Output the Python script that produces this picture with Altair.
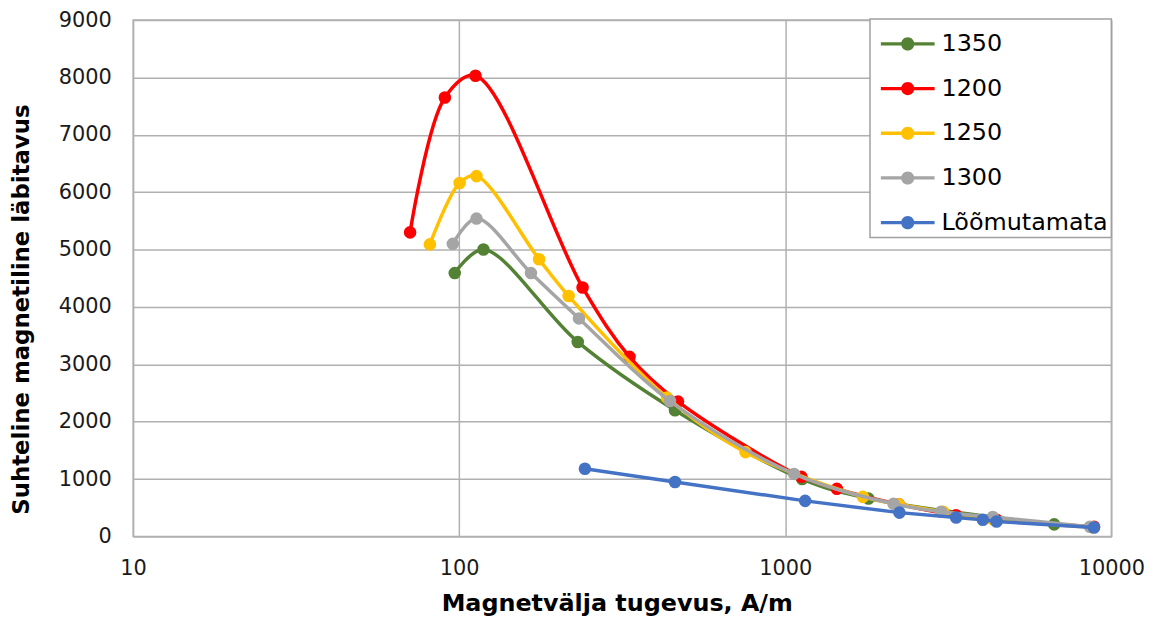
import altair as alt
import pandas as pd

# ---- data ----
series_names = ["1350", "1200", "1250", "1300", "Lõõmutamata"]
series_colors = ["#548235", "#FF0000", "#FFC000", "#A5A5A5", "#4472C4"]

x_1350 = [96.9, 118.7, 231, 459, 1127, 1800, 6680]
y_1350 = [4590, 5000, 3390, 2200, 1000, 660, 210]

x_1200 = [70.7, 90.4, 112.2, 239, 333, 469, 1120, 1440, 2230, 3340, 4450, 8850]
y_1200 = [5300, 7650, 8030, 4340, 3130, 2350, 1040, 830, 560, 370, 290, 170]

x_1250 = [81.3, 100.3, 113, 175.8, 216.6, 434, 755, 1730, 2230, 3050, 4330, 8750]
y_1250 = [5090, 6160, 6280, 4830, 4190, 2420, 1470, 690, 560, 430, 300, 160]

x_1300 = [95.6, 113, 166, 233, 443, 1064, 2148, 3006, 4330, 8600]
y_1300 = [5100, 5540, 4590, 3800, 2360, 1090, 570, 430, 340, 170]

x_lo = [243, 459, 1151, 2240, 3342, 4036, 4446, 8850]
y_lo = [1180, 950, 620, 415, 330, 290, 260, 156]

x_ticks = [10, 100, 1000, 10000]
y_ticks = [0, 1000, 2000, 3000, 4000, 5000, 6000, 7000, 8000, 9000]

xs = [x_1350, x_1200, x_1250, x_1300, x_lo]
ys = [y_1350, y_1200, y_1250, y_1300, y_lo]

rows = []
for name, xv, yv in zip(series_names, xs, ys):
    for a, b in zip(xv, yv):
        rows.append({"series": name, "H": a, "mu": b})
df = pd.DataFrame(rows)

FONT = "DejaVu Sans"
GRID = "#B0B0B0"

x_enc = alt.X(
    "H:Q",
    scale=alt.Scale(type="log", domain=[10, 10000], nice=False),
    axis=alt.Axis(
        values=x_ticks, format="d", title="Magnetvälja tugevus, A/m",
        grid=True, gridColor=GRID, gridWidth=1.5, domain=False, ticks=False, tickSize=0,
        labelFont=FONT, labelFontSize=21, labelColor="#1a1a1a", labelPadding=32,
        labelBaseline="middle", labelFlush=False,
        titleFont=FONT, titleFontSize=24, titleFontWeight="bold", titleColor="#000000",
        titleX=487, titleY=68, titleBaseline="middle", titleAlign="center",
    ),
)
y_enc = alt.Y(
    "mu:Q",
    scale=alt.Scale(domain=[0, 9000], nice=False),
    axis=alt.Axis(
        values=y_ticks, format="d", title="Suhteline magnetiline läbitavus",
        grid=True, gridColor=GRID, gridWidth=1.5, domain=False, ticks=False, tickSize=0,
        labelFont=FONT, labelFontSize=21, labelColor="#1a1a1a", labelPadding=22,
        titleFont=FONT, titleFontSize=23, titleFontWeight="bold", titleColor="#000000",
        titleAngle=270, titleX=-112, titleY=291, titleBaseline="middle", titleAlign="center",
    ),
)

color_scale = alt.Scale(domain=series_names, range=series_colors)

legend_path = ("M-1.23,-0.075H1.23V0.075H-1.23Z "
               "M-0.3,0A0.3,0.3 0 1,1 0.3,0A0.3,0.3 0 1,1 -0.3,0Z")

legend = alt.Legend(
    title=None, orient="none", legendX=742, legendY=-1,
    symbolType=legend_path, symbolSize=1936, symbolOffset=13, symbolOpacity=1,
    symbolStrokeWidth=0,
    labelFont=FONT, labelFontSize=24, labelColor="#000000", labelOffset=12,
    labelLimit=300,
    rowPadding=11, padding=3,
    fillColor="white", strokeColor="#A0A0A0",
)

layers = []
for name, col in zip(series_names, series_colors):
    sub = alt.Chart(df).transform_filter(alt.datum.series == name)
    interp = "linear" if name == "Lõõmutamata" else "catmull-rom"
    line = sub.mark_line(strokeWidth=3.5, interpolate=interp, color=col).encode(
        x=x_enc, y=y_enc,
        order=alt.Order("H:Q"),
    )
    pts = sub.mark_point(filled=True, size=160, opacity=1).encode(
        x=x_enc, y=y_enc,
        color=alt.Color("series:N", scale=color_scale, legend=legend),
    )
    layers += [line, pts]

chart = alt.layer(*layers).properties(
    width=985, height=520,
    autosize=alt.AutoSizeParams(type="none"),
    padding={"left": 126, "top": 10, "right": 45, "bottom": 83},
    background="white",
).configure_view(stroke=GRID, strokeWidth=1.5).configure_legend(strokeWidth=1.5)

chart.save("out.html", embed_options={"renderer": "svg", "actions": False})
